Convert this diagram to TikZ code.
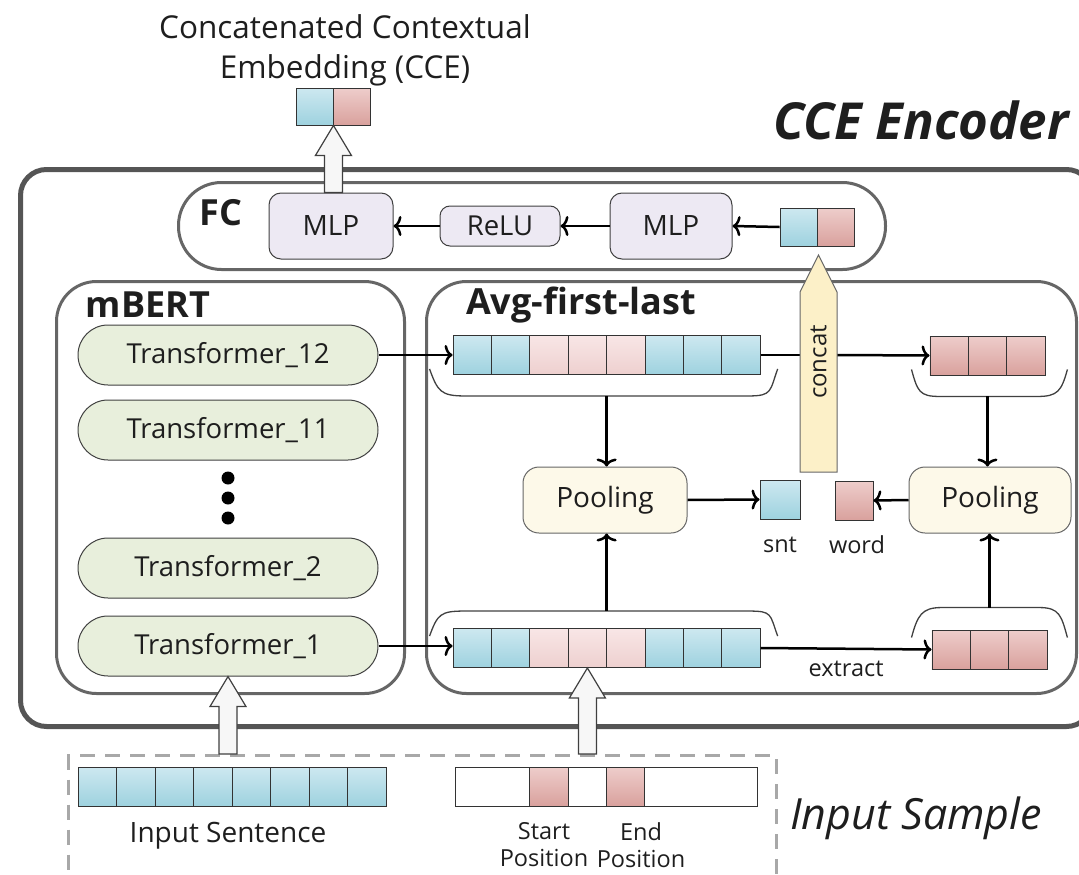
\documentclass[tikz,border=0pt]{standalone}
\usepackage{fontspec}
\setmainfont{Open Sans}
\usetikzlibrary{calc,arrows.meta}
\definecolor{txt}{HTML}{1E1E1E}
\definecolor{outerc}{HTML}{555555}
\definecolor{innerc}{HTML}{666666}
\definecolor{lav}{HTML}{EDE9F3}
\definecolor{grn}{HTML}{E8EFDC}
\definecolor{crm}{HTML}{FDF9E9}
\definecolor{ylw}{HTML}{FCF0C8}
\definecolor{bt}{HTML}{CDE8F0}
\definecolor{bb}{HTML}{9ED2DF}
\definecolor{rt}{HTML}{EECDCB}
\definecolor{rb}{HTML}{D9A19D}
\definecolor{pt}{HTML}{F8E6E6}
\definecolor{pb}{HTML}{EED0CF}
\definecolor{dashc}{HTML}{A8A8A8}
\newcommand\fs[2]{\fontsize{#1}{#2}\selectfont}
\newcommand\hollow[2]{%
  \draw[hollowst] let \p1=(#1), \p2=(#2) in
  (\x2-9pt,\y1) -- (\x2-9pt,\y2-30pt) -- (\x2-18pt,\y2-30pt) -- (\x2,\y2)
  -- (\x2+18pt,\y2-30pt) -- (\x2+9pt,\y2-30pt) -- (\x2+9pt,\y1) -- cycle;}
\begin{document}
\begin{tikzpicture}[x=1pt,y=-1pt,
  every node/.style={text=txt},
  container/.style={draw=innerc,line width=3pt,anchor=north west,inner sep=0pt},
  cell/.style={draw=black!80,line width=0.9pt,inner sep=0pt,minimum width=38.4pt,minimum height=39pt},
  cb/.style={top color=bt,bottom color=bb},
  cr/.style={top color=rt,bottom color=rb},
  cp/.style={top color=pt,bottom color=pb},
  cw/.style={fill=white},
  tfm/.style={draw=black!75,line width=1pt,fill=grn,rounded corners=30pt,minimum width=300pt,minimum height=60pt,font=\fs{27.5}{32}},
  mlpst/.style={draw=black!75,line width=1pt,fill=lav,rounded corners=12pt,minimum width=124pt,minimum height=66pt,font=\fs{28}{32}},
  poolst/.style={draw=black!60,line width=1pt,fill=crm,rounded corners=16pt,minimum width=164pt,minimum height=66pt,font=\fs{28}{32}},
  arr/.style={draw=black,line width=2.5pt,-{To[length=8pt,width=20pt]}},
  plain/.style={draw=black,line width=2.5pt},
  brk/.style={draw=black!75,line width=1.3pt},
  hollowst/.style={draw=black!75,line width=1.2pt,fill=black!3},
  bold/.style={font=\fs{36}{40}\bfseries},
  small/.style={font=\fs{23.5}{27}}]
\path[use as bounding box] (0,0) rectangle (1079,875);

% title
\node[align=center,font=\fs{31.5}{40}] (title) at (345,50) {Concatenated Contextual\\Embedding (CCE)};
\node[font=\fs{51}{56}\bfseries\itshape] (enc) at (921,120) {CCE Encoder};

% containers
\node[draw=outerc,line width=5pt,rounded corners=26pt,anchor=north west,minimum width=1072pt,minimum height=557pt,inner sep=0pt] (outer) at (18,167) {};
\node[container,rounded corners=43pt,minimum width=707pt,minimum height=87pt] (fc) at (177,181) {};
\node[container,rounded corners=40pt,minimum width=348pt,minimum height=412pt] (mbert) at (55,280) {};
\node[container,rounded corners=40pt,minimum width=650pt,minimum height=412pt] (avg) at (425,280) {};
\node[draw=dashc,line width=3pt,dash pattern=on 15pt off 10pt,anchor=north west,minimum width=708pt,minimum height=135pt,inner sep=0pt] (sample) at (67,754) {};

\node[bold] (fclab) at (221,213) {FC};
\node[bold] (mbertlab) at (148,305) {mBERT};
\node[bold] (avglab) at (581,305) {Avg-first-last};

% FC row
\node[mlpst] (mlp1) at (331,226) {MLP};
\node[mlpst,minimum width=120pt,minimum height=40pt,rounded corners=10pt,font=\fs{27.5}{32}] (relu) at (500,226) {ReLU};
\node[mlpst,minimum width=122pt] (mlp2) at (671,226) {MLP};
\node[cell,cb,minimum width=37pt,minimum height=38pt] (fcv1) at (798.5,227) {};
\node[cell,cr,minimum width=37pt,minimum height=38pt] (fcv2) at (835.5,227) {};
\draw[arr] (fcv1.west) -- (mlp2.east);
\draw[arr] (mlp2.west) -- (relu.east);
\draw[arr] (relu.west) -- (mlp1.east);

% CCE output vector
\node[cell,cb,minimum width=37pt,minimum height=37pt] (cce1) at (314.5,106.5) {};
\node[cell,cr,minimum width=37pt,minimum height=37pt] (cce2) at (351.5,106.5) {};
\hollow{mlp1.north}{cce1.south east}

% transformers
\node[tfm] (t12) at (228,355) {Transformer\_12};
\node[tfm] (t11) at (228,430) {Transformer\_11};
\node[tfm] (t2) at (228,568) {Transformer\_2};
\node[tfm] (t1) at (228,646) {Transformer\_1};
\foreach \yy [count=\k] in {478,498,518} \fill (228,\yy) circle (6.5pt) coordinate (dot\k);

% vectors in Avg-first-last
\foreach \s [count=\i] in {cb,cb,cp,cp,cp,cb,cb,cb} {
  \node[cell,\s] (tv\i) at ({453+38.4*(\i-0.5)},355) {};
  \node[cell,\s] (bv\i) at ({453+38.4*(\i-0.5)},648) {};
}
\foreach \i in {1,2,3} {
  \node[cell,cr] (trv\i) at ({930+38.3*(\i-0.5)},355.5) {};
  \node[cell,cr] (brv\i) at ({932+38.3*(\i-0.5)},649.5) {};
}
\draw[arr] (t12.east) -- (tv1.west);
\draw[arr] (t1.east) -- (t1.east -| bv1.west);
\draw[plain] (tv8.east) -- (tv8.east -| 800,0);
\draw[arr] (tv8.east -| 837,0) -- (trv1.west);
\draw[arr] (bv8.east) -- (brv1.west) node[pos=0.5,below=8pt,small] (extract) {extract};

% brackets
\draw[brk] ($(tv1.south west)+(-23,-6)$) .. controls +(8,22) and +(-24,0) .. ($(tv1.south west)+(12,21)$)
  -- ($(tv8.south east)+(-12,21)$) .. controls +(24,0) and +(-8,22) .. ($(tv8.south east)+(17,-6)$);
\coordinate (tvb) at ($(tv1.south west)!0.5!(tv8.south east)+(0,21)$);
\draw[brk] ($(bv1.north west)+(-23,8)$) .. controls +(8,-22) and +(-24,0) .. ($(bv1.north west)+(12,-17)$)
  -- ($(bv8.north east)+(-12,-17)$) .. controls +(24,0) and +(-8,-22) .. ($(bv8.north east)+(17,8)$);
\coordinate (bvb) at ($(bv1.north west)!0.5!(bv8.north east)+(0,-17)$);
\draw[brk] ($(trv1.south west)+(-18,-6)$) .. controls +(6,22) and +(-20,0) .. ($(trv1.south west)+(10,21)$)
  -- ($(trv3.south east)+(-8,21)$) .. controls +(20,0) and +(-6,22) .. ($(trv3.south east)+(22,-6)$);
\coordinate (trvb) at ($(trv2.south)+(0,21)$);
\draw[brk] ($(brv1.north west)+(-20,8)$) .. controls +(6,-22) and +(-20,0) .. ($(brv1.north west)+(10,-22)$)
  -- ($(brv3.north east)+(-8,-22)$) .. controls +(20,0) and +(-6,-22) .. ($(brv3.north east)+(20,8)$);
\coordinate (brvb) at ($(brv2.north)+(0,-22)$);

% pooling
\node[poolst] (pool1) at (605,500) {Pooling};
\node[poolst,minimum width=162pt] (pool2) at (990,500) {Pooling};
\node[cell,cb,minimum width=40pt,minimum height=39pt] (snt) at (780,499.5) {};
\node[cell,cr,minimum width=38pt,minimum height=39pt] (word) at (854,500.5) {};
\node[small] (sntlab) at (780,545) {snt};
\node[small] (wordlab) at (857,545) {word};
\draw[arr] (tvb) -- (tvb |- pool1.north);
\draw[arr] (bvb) -- (bvb |- pool1.south);
\draw[arr] (trvb) -- (trvb |- pool2.north);
\draw[arr] (brvb) -- (brvb |- pool2.south);
\draw[arr] (pool1.east) -- (snt.west);
\draw[arr] (pool2.west) -- (word.east);

% concat arrow
\draw[draw=black!60,line width=1pt,fill=ylw] (800,472) -- (800,292) -- (818.5,255) -- (837,292) -- (837,472) -- cycle;
\node[rotate=90,font=\fs{24}{28}] (concat) at (818.5,362) {concat};

% input sample
\foreach \i in {1,...,8} \node[cell,cb] (in\i) at ({78+38.5*(\i-0.5)},786.5) {};
\node[font=\fs{28}{32}] (inlab) at (228,836) {Input Sentence};
\node[cell,cw,minimum width=302pt] (pos) at (606,786.5) {};
\node[cell,cr,minimum width=39pt] (ps) at (548.5,786.5) {};
\node[cell,cr,minimum width=38pt] (pe) at (625,786.5) {};
\node[small,align=center,inner sep=0pt] (pslab) at (544,845) {Start\\Position};
\node[small,align=center,inner sep=0pt] (pelab) at (641,845) {End\\Position};
\node[font=\fs{43}{48}\itshape] (samplelab) at (916,818) {Input Sample};

\coordinate (a1) at (sample.north -| t1.south);
\coordinate (a2) at (sample.north -| bv4.south);
\hollow{a1}{t1.south}
\hollow{a2}{bv4.south}
\end{tikzpicture}
\end{document}
